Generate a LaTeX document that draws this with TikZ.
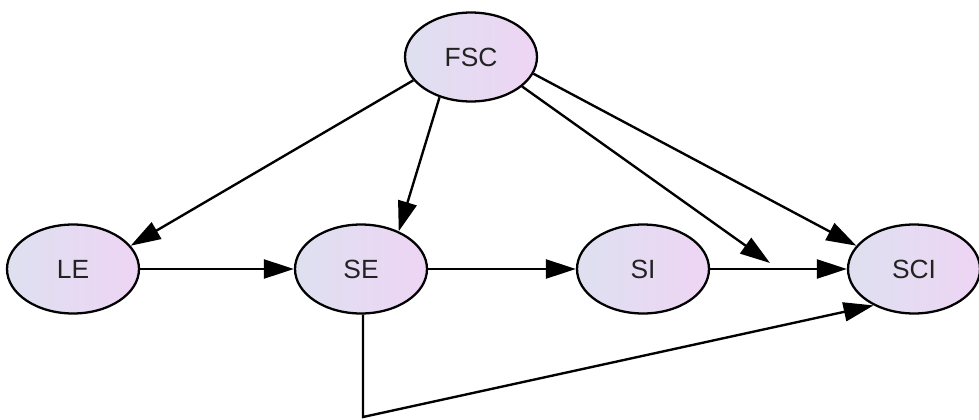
\documentclass[tikz,border=0pt]{standalone}
\usepackage{fontspec}
\setmainfont{Liberation Sans}
\usetikzlibrary{arrows.meta,shapes.geometric}
\definecolor{nodeL}{HTML}{DEE0F0}
\definecolor{nodeR}{HTML}{EED5F4}
\definecolor{txt}{HTML}{222222}
\tikzset{
  varnode/.style={ellipse, draw=black, line width=1.3pt, minimum width=2.64cm, minimum height=1.78cm,
    left color=nodeL, right color=nodeR, text=txt, font=\fontsize{15}{17}\selectfont, inner sep=0pt},
  conn/.style={line width=1.35pt, -{Triangle[length=0.6cm,width=0.38cm]}},
}
\begin{document}
\begin{tikzpicture}[x=0.02cm,y=-0.02cm]
\useasboundingbox (0,0) rectangle (979,419);
\node[varnode] (FSC) at (471,57) {FSC};
\node[varnode] (LE) at (73,269) {LE};
\node[varnode] (SE) at (361,269) {SE};
\node[varnode] (SI) at (643,269) {SI};
\node[varnode] (SCI) at (914,269) {SCI};
\coordinate (free) at (770,263);
\coordinate (corner) at (363,417);
\draw[conn] (FSC.202) -- (LE.22);
\draw[conn] (FSC.232) -- (SE.45);
\draw[conn] (FSC.330) -- (free);
\draw[conn] (FSC.345) -- (SCI.158);
\draw[conn] (LE) -- (SE);
\draw[conn] (SE) -- (SI);
\draw[conn] (SI) -- (SCI);
\draw[conn] (SE.south -| corner) -- (corner) -- (SCI.222);
\end{tikzpicture}
\end{document}
